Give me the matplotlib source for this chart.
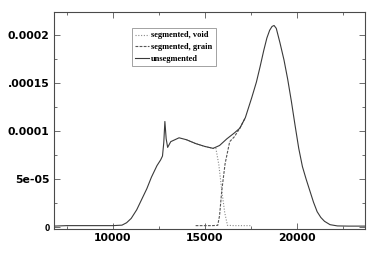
import matplotlib
matplotlib.use("Agg")
import matplotlib.pyplot as plt
from matplotlib.ticker import MultipleLocator, FixedLocator

# ============================================================
# Data
# ============================================================

unseg_x = [6800, 7500, 8500, 9500, 10000, 10500, 10750, 11000, 11300, 11600,
           11850, 12100, 12400, 12600, 12700, 12770, 12830, 12900, 12980, 13150,
           13600, 14000, 14500, 15000, 15450, 15800, 16200, 16600, 16900, 17200,
           17550, 17800, 18000, 18200, 18370, 18520, 18650, 18760, 18880, 19080,
           19300, 19500, 19700, 19900, 20100, 20300, 20500, 20700, 20900, 21100,
           21300, 21500, 21800, 22200, 22800, 23700]
unseg_y = [0.10, 0.15, 0.15, 0.15, 0.15, 0.20, 0.45, 0.90, 1.80, 3.00,
           4.00, 5.20, 6.40, 7.00, 7.40, 8.80, 11.00, 9.20, 8.30, 8.90,
           9.30, 9.10, 8.70, 8.40, 8.20, 8.50, 9.20, 9.80, 10.30, 11.40,
           13.50, 15.10, 16.70, 18.40, 19.70, 20.50, 20.90, 21.00, 20.70, 19.20,
           17.40, 15.40, 13.10, 10.60, 8.20, 6.30, 5.00, 3.80, 2.60, 1.60,
           1.00, 0.60, 0.25, 0.12, 0.10, 0.10]

void_x = [14000, 14500, 15000, 15450, 15600, 15760, 15920, 16080, 16230, 16600, 17000, 17500]
void_y = [9.10, 8.70, 8.40, 8.20, 8.20, 6.50, 3.80, 1.50, 0.18, 0.15, 0.15, 0.15]

grain_x = [14500, 15000, 15400, 15700, 15800, 15920, 16100, 16350, 16600, 16900, 17200]
grain_y = [0.15, 0.15, 0.15, 0.18, 1.20, 3.80, 6.60, 8.90, 9.40, 10.30, 11.40]

scale = 1e-5

ytick_vals = [0, 5e-5, 1e-4, 1.5e-4, 2e-4]
ytick_labels = ["0", "5e-05", "0.0001", ".00015", "0.0002"]
xtick_vals = [10000, 15000, 20000]
xtick_labels = ["10000", "15000", "20000"]

# ============================================================
# Figure
# ============================================================

fig = plt.figure(figsize=(3.74, 2.62), dpi=100)
ax = fig.add_axes([0.144, 0.126, 0.832, 0.828])

ax.plot(void_x, [v * scale for v in void_y], color="#8a8a8a", lw=0.8,
        linestyle=(0, (1, 1.5)), label="segmented, void")
ax.plot(grain_x, [v * scale for v in grain_y], color="#555555", lw=0.8,
        linestyle=(0, (2.5, 1.2)), label="segmented, grain")
ax.plot(unseg_x, [v * scale for v in unseg_y], color="#3a3a3a", lw=0.8,
        label="unsegmented")

ax.set_xlim(6800, 23700)
ax.set_ylim(-2e-6, 2.24e-4)

ax.xaxis.set_major_locator(FixedLocator(xtick_vals))
ax.set_xticklabels(xtick_labels)
ax.xaxis.set_minor_locator(MultipleLocator(2500))
ax.yaxis.set_major_locator(FixedLocator(ytick_vals))
ax.set_yticklabels(ytick_labels)
ax.yaxis.set_minor_locator(MultipleLocator(2.5e-5))

ax.tick_params(which="both", direction="in", top=True, right=True,
               color="#555555", width=0.6)
ax.tick_params(which="major", length=4, labelsize=7.8, pad=3)
ax.tick_params(which="minor", length=2)
for lab in ax.get_xticklabels() + ax.get_yticklabels():
    lab.set_fontweight("bold")
    lab.set_family("DejaVu Sans")
ax.get_yticklabels()[0].set_fontsize(5.5)

for sp in ax.spines.values():
    sp.set_color("#4a4a4a")
    sp.set_linewidth(0.8)

leg = ax.legend(loc="upper left", bbox_to_anchor=(0.251, 0.926),
                prop={"family": "Liberation Serif", "weight": "bold", "size": 6},
                frameon=True, fancybox=False, handlelength=1.6,
                handletextpad=0.3, borderpad=0.4, labelspacing=0.45,
                borderaxespad=0)
leg.get_frame().set_edgecolor("#777777")
leg.get_frame().set_linewidth(0.6)

fig.savefig("out.png", dpi=100)
